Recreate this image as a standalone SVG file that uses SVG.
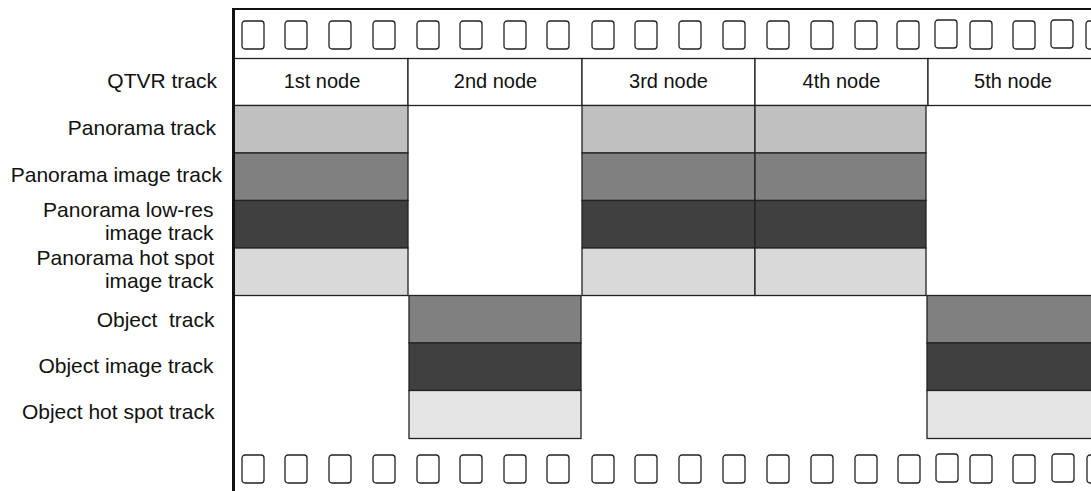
<svg xmlns="http://www.w3.org/2000/svg" width="1091" height="491" viewBox="0 0 1091 491">
<style>
.lbl{font-family:"Liberation Sans",Arial,sans-serif;font-size:21px;fill:#111;text-anchor:end}
.nd{font-family:"Liberation Sans",Arial,sans-serif;font-size:20px;fill:#111;text-anchor:middle}
.hole{fill:#fff;stroke:#222;stroke-width:1.3}
.cell{stroke:#222;stroke-width:1.3}
.hdr{fill:#fff}
.pt{fill:#c0c0c0}
.pi{fill:#808080}
.pl{fill:#404040}
.ph{fill:#d9d9d9}
.ot{fill:#808080}
.oi{fill:#404040}
.oh{fill:#e5e5e5}
</style>
<defs>
<rect id="h" class="hole" width="22" height="28" rx="3"/>
</defs>
<rect width="1091" height="491" fill="#fff"/>
<g id="labels">
<text class="lbl" x="217" y="88">QTVR track</text>
<text class="lbl" x="216" y="135">Panorama track</text>
<text class="lbl" x="222" y="182">Panorama image track</text>
<text class="lbl" x="213.5" y="217">Panorama low-res</text>
<text class="lbl" x="213.5" y="239.5">image track</text>
<text class="lbl" x="214" y="264.5">Panorama hot spot</text>
<text class="lbl" x="213.5" y="287.5">image track</text>
<text class="lbl" x="214.5" y="327" xml:space="preserve">Object  track</text>
<text class="lbl" x="213.5" y="373">Object image track</text>
<text class="lbl" x="214.5" y="418.5">Object hot spot track</text>
</g>
<g id="header">
<rect class="cell hdr" x="234" y="58.5" width="174" height="47"/>
<rect class="cell hdr" x="408" y="58.5" width="174" height="47"/>
<rect class="cell hdr" x="582" y="58.5" width="173" height="47"/>
<rect class="cell hdr" x="755" y="58.5" width="173" height="47"/>
<rect class="cell hdr" x="928" y="58.5" width="175" height="47"/>
<text class="nd" x="322" y="88">1st node</text>
<text class="nd" x="495.5" y="88">2nd node</text>
<text class="nd" x="668.5" y="88">3rd node</text>
<text class="nd" x="841.5" y="88">4th node</text>
<text class="nd" x="1013" y="88">5th node</text>
</g>
<g id="node1">
<rect class="cell pt" x="234" y="105.5" width="174" height="47.5"/>
<rect class="cell pi" x="234" y="153" width="174" height="47.5"/>
<rect class="cell pl" x="234" y="200.5" width="174" height="47.5"/>
<rect class="cell ph" x="234" y="248" width="174" height="47.5"/>
</g>
<g id="node2">
<rect class="cell ot" x="409" y="295.5" width="172" height="47.5"/>
<rect class="cell oi" x="409" y="343" width="172" height="47.5"/>
<rect class="cell oh" x="409" y="390.5" width="172" height="48"/>
</g>
<g id="node3">
<rect class="cell pt" x="582" y="105.5" width="173" height="47.5"/>
<rect class="cell pi" x="582" y="153" width="173" height="47.5"/>
<rect class="cell pl" x="582" y="200.5" width="173" height="47.5"/>
<rect class="cell ph" x="582" y="248" width="173" height="47.5"/>
</g>
<g id="node4">
<rect class="cell pt" x="755" y="105.5" width="171" height="47.5"/>
<rect class="cell pi" x="755" y="153" width="171" height="47.5"/>
<rect class="cell pl" x="755" y="200.5" width="171" height="47.5"/>
<rect class="cell ph" x="755" y="248" width="171" height="47.5"/>
</g>
<g id="node5">
<rect class="cell ot" x="927" y="295.5" width="176" height="47.5"/>
<rect class="cell oi" x="927" y="343" width="176" height="47.5"/>
<rect class="cell oh" x="927" y="390.5" width="176" height="48"/>
</g>
<g id="film">
<line x1="232" y1="9" x2="1091" y2="9" stroke="#111" stroke-width="2"/>
<line x1="233.5" y1="8" x2="233.5" y2="491" stroke="#111" stroke-width="3"/>
<g id="holes-top">
<use href="#h" x="242" y="21"/><use href="#h" x="285" y="21"/><use href="#h" x="329" y="21"/>
<use href="#h" x="373" y="21"/><use href="#h" x="417" y="21"/><use href="#h" x="460" y="21"/>
<use href="#h" x="504" y="21"/><use href="#h" x="547" y="21"/><use href="#h" x="592" y="21"/>
<use href="#h" x="635" y="21"/><use href="#h" x="679" y="21"/><use href="#h" x="723" y="21"/>
<use href="#h" x="767" y="21"/><use href="#h" x="811" y="21"/><use href="#h" x="855" y="21"/>
<use href="#h" x="897" y="21"/><use href="#h" x="935" y="20"/><use href="#h" x="970" y="21"/>
<use href="#h" x="1013" y="21"/><use href="#h" x="1051" y="20"/><use href="#h" x="1086" y="21"/>
</g>
<g id="holes-bottom">
<use href="#h" x="242" y="455"/><use href="#h" x="285" y="455"/><use href="#h" x="329" y="455"/>
<use href="#h" x="373" y="455"/><use href="#h" x="417" y="455"/><use href="#h" x="460" y="455"/>
<use href="#h" x="504" y="455"/><use href="#h" x="547" y="455"/><use href="#h" x="592" y="455"/>
<use href="#h" x="635" y="455"/><use href="#h" x="679" y="455"/><use href="#h" x="723" y="455"/>
<use href="#h" x="767" y="455"/><use href="#h" x="811" y="455"/><use href="#h" x="855" y="455"/>
<use href="#h" x="898" y="455"/><use href="#h" x="936" y="454"/><use href="#h" x="970" y="455"/>
<use href="#h" x="1013" y="455"/><use href="#h" x="1052" y="454"/><use href="#h" x="1087" y="455"/>
</g>
</g>
</svg>
